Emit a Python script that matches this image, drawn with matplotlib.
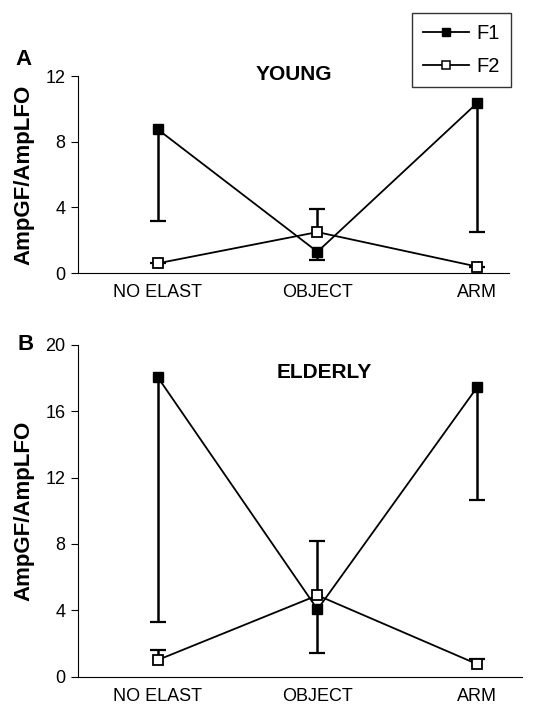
import matplotlib
matplotlib.use("Agg")
import matplotlib.pyplot as plt
from matplotlib.lines import Line2D

plt.rcParams['font.family'] = ['Liberation Sans', 'DejaVu Sans']

conditions = ["NO ELAST", "OBJECT", "ARM"]
xpos = [0, 1, 2]

# panel A - young
young_f1 = [8.75, 1.3, 10.35]
young_f1_low = [3.2, 0.8, 2.5]     # lower end of the error bar
young_f2 = [0.6, 2.5, 0.4]
young_f2_high = [0.6, 3.9, 0.4]    # upper end of the error bar

# panel B - elderly
old_f1 = [18.05, 4.05, 17.45]
old_f1_low = [3.3, 1.4, 10.65]
old_f2 = [1.0, 4.9, 0.75]
old_f2_high = [1.6, 8.15, 1.05]

fig = plt.figure(figsize=(5.38, 7.04), dpi=100)
axA = fig.add_axes([0.145, 0.612, 0.801, 0.280])
axB = fig.add_axes([0.145, 0.039, 0.825, 0.471])


def one_sided_err(ax, x, y, end):
    # vertical bar from the mean to one end, cap only at the far end
    ax.vlines(x, y, end, color='black', lw=1.8, zorder=2)
    ax.plot(x, end, ls='none', marker='_', ms=12, mew=1.6, color='black', zorder=2)


def draw_panel(ax, f1, f1_low, f2, f2_high, ymax, yticks, title, xmax, tpos):
    one_sided_err(ax, xpos, f1, f1_low)
    one_sided_err(ax, xpos, f2, f2_high)
    ax.plot(xpos, f1, color='black', lw=1.3, marker='s', ms=7,
            mfc='black', mec='black', zorder=3)
    ax.plot(xpos, f2, color='black', lw=1.3, marker='s', ms=7,
            mfc='white', mec='black', mew=1.3, zorder=4)
    ax.set_ylim(0, ymax)
    ax.set_xlim(-0.5, xmax)
    ax.set_yticks(yticks)
    ax.set_xticks(xpos)
    ax.set_xticklabels(conditions)
    ax.spines['top'].set_visible(False)
    ax.spines['right'].set_visible(False)
    ax.tick_params(axis='y', direction='out', length=5, labelsize=13, pad=4)
    ax.tick_params(axis='x', length=0, labelsize=13, pad=8)
    ax.set_ylabel('AmpGF/AmpLFO', fontsize=16, fontweight='bold', labelpad=8)
    ax.text(tpos[0], tpos[1], title, transform=ax.transAxes, ha='center',
            va='center', fontsize=15, fontweight='bold')


draw_panel(axA, young_f1, young_f1_low, young_f2, young_f2_high,
           12, [0, 4, 8, 12], 'YOUNG', 2.2, (0.5, 1.01))
draw_panel(axB, old_f1, old_f1_low, old_f2, old_f2_high,
           20, [0, 4, 8, 12, 16, 20], 'ELDERLY', 2.28, (0.556, 0.916))

fig.text(0.043, 0.916, 'A', fontsize=16, fontweight='bold', ha='center', va='center')
fig.text(0.048, 0.510, 'B', fontsize=16, fontweight='bold', ha='center', va='center')

handles = [
    Line2D([], [], color='black', lw=1.3, marker='s', ms=5.5, mfc='black', mec='black'),
    Line2D([], [], color='black', lw=1.3, marker='s', ms=5.5, mfc='white', mec='black', mew=1.1),
]
leg = fig.legend(handles, ['F1', 'F2'], loc='upper left',
                 bbox_to_anchor=(412 / 538, 1 - 13 / 704), borderaxespad=0,
                 fontsize=14.5, frameon=True, fancybox=False, edgecolor='black',
                 borderpad=0.55, handlelength=2.3, labelspacing=0.7,
                 handletextpad=0.35)
leg.get_frame().set_linewidth(1.0)

fig.savefig('out.png', dpi=100)
